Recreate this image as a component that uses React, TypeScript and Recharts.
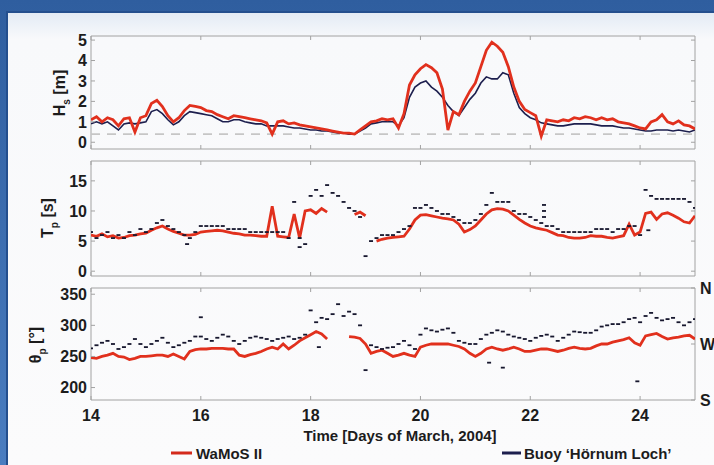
import React from "react";
import { ComposedChart, Line, XAxis, YAxis, ReferenceArea, ReferenceLine } from "recharts";

// sample times, days of March 2004
const DAYS = [
  14.0, 14.1, 14.2, 14.3, 14.4, 14.5, 14.6, 14.7, 14.8, 14.9,
  15.0, 15.1, 15.2, 15.3, 15.4, 15.5, 15.6, 15.7, 15.8, 15.9,
  16.0, 16.1, 16.2, 16.3, 16.4, 16.5, 16.6, 16.7, 16.8, 16.9,
  17.0, 17.1, 17.2, 17.3, 17.4, 17.5, 17.6, 17.7, 17.8, 17.9,
  18.0, 18.1, 18.2, 18.3, 18.4, 18.5, 18.6, 18.7, 18.8, 18.9,
  19.0, 19.1, 19.2, 19.3, 19.4, 19.5, 19.6, 19.7, 19.8, 19.9,
  20.0, 20.1, 20.2, 20.3, 20.4, 20.5, 20.6, 20.7, 20.8, 20.9,
  21.0, 21.1, 21.2, 21.3, 21.4, 21.5, 21.6, 21.7, 21.8, 21.9,
  22.0, 22.1, 22.2, 22.3, 22.4, 22.5, 22.6, 22.7, 22.8, 22.9,
  23.0, 23.1, 23.2, 23.3, 23.4, 23.5, 23.6, 23.7, 23.8, 23.9,
  24.0, 24.1, 24.2, 24.3, 24.4, 24.5, 24.6, 24.7, 24.8, 24.9,
  25.0,
];

// significant wave height [m]
const HS_WAMOS = [
  1.1, 1.25, 1.0, 1.2, 1.1, 0.8, 1.15, 1.2, 0.5, 1.2,
  1.3, 1.9, 2.05, 1.75, 1.3, 1.0, 1.2, 1.55, 1.8, 1.75,
  1.7, 1.55, 1.5, 1.35, 1.25, 1.15, 1.3, 1.25, 1.2, 1.15,
  1.1, 1.05, 0.95, 0.4, 1.0, 1.05, 0.9, 0.95, 0.85, 0.8,
  0.75, 0.7, 0.65, 0.6, 0.55, 0.5, 0.45, 0.45, 0.4, 0.6,
  0.8, 1.0, 1.05, 1.15, 1.1, 1.15, 0.7, 1.4, 2.8, 3.3,
  3.6, 3.8, 3.65, 3.4, 2.6, 0.6, 1.5, 1.35, 2.0, 2.5,
  2.9, 3.7, 4.5, 4.9, 4.7, 4.4, 3.7, 2.7, 2.0, 1.6,
  1.45, 1.3, 0.3, 1.1, 1.05, 1.0, 1.1, 1.05, 1.2, 1.15,
  1.25, 1.2, 1.1, 1.2, 1.1, 1.15, 1.0, 0.95, 0.9, 0.8,
  0.7, 0.65, 1.0, 1.1, 1.35, 1.0, 0.9, 1.05, 0.85, 0.8,
  0.65,
];
const HS_BUOY = [
  0.9, 1.0, 0.9, 1.0, 0.8, 0.6, 0.9, 0.95, 0.9, 0.95,
  1.0, 1.5, 1.6, 1.4, 1.1, 0.85, 1.0, 1.3, 1.5, 1.45,
  1.4, 1.35, 1.3, 1.15, 1.0, 1.0, 1.1, 1.1, 1.0, 0.95,
  0.9, 0.9, 0.8, 0.8, 0.8, 0.8, 0.75, 0.7, 0.7, 0.65,
  0.6, 0.6, 0.55, 0.55, 0.5, 0.45, 0.45, 0.4, 0.4, 0.55,
  0.7, 0.9, 0.95, 1.0, 1.0, 1.0, 0.8, 1.2, 2.2, 2.7,
  2.9, 3.0, 2.7, 2.5, 2.2, 1.8, 1.5, 1.3, 1.7, 2.1,
  2.4, 2.9, 3.2, 3.1, 3.1, 3.4, 3.3, 2.4, 1.7, 1.4,
  1.2, 1.1, 0.95, 0.9, 0.85, 0.8, 0.8, 0.85, 0.9, 0.9,
  0.9, 0.9, 0.85, 0.8, 0.8, 0.8, 0.75, 0.7, 0.7, 0.65,
  0.6, 0.55, 0.55, 0.6, 0.6, 0.6, 0.55, 0.6, 0.55, 0.5,
  0.6,
];

// peak period [s]
const TP_WAMOS = [
  6.0, 5.8, 6.2, 5.7, 5.9, 5.5, 5.6, 5.9, 6.0, 6.2,
  6.3, 6.8, 7.2, 7.5, 7.0, 6.6, 6.3, 6.0, 6.0, 6.1,
  6.5, 6.6, 6.7, 6.8, 6.7, 6.5, 6.3, 6.2, 6.0, 6.0,
  5.9, 5.8, 5.8, 10.8, 5.8, 5.7, 5.6, 9.5, 5.5, 10.0,
  10.2, 9.6, 10.4, 9.8, null, null, null, null, 9.4, 9.8,
  9.2, null, 5.0, 5.3, 5.5, 5.6, 5.7, 5.8, 7.0, 8.5,
  9.3, 9.4, 9.2, 9.0, 8.8, 8.7, 8.5, 7.8, 6.5, 6.9,
  7.5, 8.5, 9.5, 10.2, 10.4, 10.3, 10.0, 9.3, 8.6, 8.0,
  7.5, 7.2, 7.0, 6.8, 6.4, 6.0, 5.9, 5.6, 5.5, 5.5,
  5.6, 5.9, 5.8, 5.8, 5.6, 5.5, 5.7, 5.9, 7.8, 6.0,
  6.5, 9.6, 9.8, 8.6, 9.5, 9.7, 9.3, 8.8, 8.2, 8.0,
  9.2,
];
const TP_BUOY = [
  6.5, 5.5, 6.0, 6.5, 5.5, 6.0, 5.5, 6.5, 6.0, 7.0,
  6.5, 7.0, 8.0, 8.5, 7.5, 7.0, 6.5, 6.0, 5.5, 6.5,
  7.5, 7.5, 7.5, 7.5, 7.5, 7.0, 7.0, 7.0, 7.0, 6.5,
  6.5, 6.5, 6.5, 6.5, 6.5, 6.5, 5.5, 11.5, 5.5, 4.5,
  12.5, 13.5, 12.5, 14.3, 13.0, 12.5, 11.5, 10.5, 10.0, 9.0,
  2.5, 5.0, 5.5, 6.0, 6.0, 6.0, 6.5, 7.0, 7.5, 10.5,
  10.5, 11.0, 10.5, 10.0, 9.5, 9.5, 9.0, 8.5, 8.0, 8.0,
  8.5, 9.5, 11.0, 13.0, 11.5, 11.5, 11.5, 10.0, 9.5, 9.5,
  9.0, 8.5, 8.0, 7.5, 7.5, 7.0, 6.5, 6.5, 6.5, 6.5,
  6.5, 6.5, 7.0, 7.0, 7.0, 6.5, 7.0, 7.0, 7.5, 7.5,
  6.0, 13.5, 12.5, 12.0, 12.0, 12.0, 12.0, 12.0, 12.0, 11.5,
  10.5,
];
const TP_OUT_DAYS = [15.75, 17.8, 22.25, 22.25, 22.25, 24.15];
const TP_OUT_VALS = [4.5, 4.0, 9.0, 10.0, 11.0, 6.8];

// peak direction [deg]
const TH_WAMOS = [
  248, 247, 250, 252, 255, 250, 249, 245, 247, 250,
  250, 251, 252, 252, 250, 254, 250, 246, 258, 261,
  262, 262, 263, 263, 263, 262, 262, 252, 250, 253,
  255, 258, 262, 265, 262, 270, 262, 268, 275, 280,
  285, 290, 286, 278, null, null, null, 282, 281, 279,
  270, 255, 258, 260, 255, 250, 252, 255, 252, 250,
  265, 268, 270, 270, 270, 270, 268, 266, 262, 255,
  250, 255, 262, 265, 262, 260, 262, 265, 262, 258,
  258, 260, 262, 262, 260, 258, 260, 263, 265, 263,
  262, 263, 267, 270, 270, 273, 275, 277, 280, 272,
  268, 283, 285, 287, 282, 278, 280, 281, 283, 284,
  278,
];
const TH_BUOY = [
  263, 268, 272, 275, 270, 262, 265, 270, 278, 270,
  265, 270, 275, 280, 272, 265, 268, 272, 275, 282,
  282, 278, 275, 280, 285, 282, 275, 270, 275, 280,
  282, 280, 278, 275, 278, 280, 282, 278, 280, 285,
  324, 305, 312, 310, 318, 334, 315, 322, 318, 300,
  228, 268, 265, 262, 264, 265, 270, 275, 268, 262,
  285, 295, 292, 290, 293, 295, 288, 275, 272, 270,
  270, 278, 285, 288, 292, 290, 285, 282, 280, 278,
  275, 280, 283, 285, 282, 275, 280, 285, 290, 289,
  288, 288, 292, 298, 300, 302, 302, 305, 310, 312,
  305, 315, 320, 312, 308, 310, 312, 305, 300, 305,
  310,
];
const TH_OUT_DAYS = [16.0, 18.15, 21.25, 21.5, 23.95];
const TH_OUT_VALS = [313, 265, 240, 232, 210];

const X_TICKS = [14, 16, 18, 20, 22, 24];
const HS_TICKS = [0, 1, 2, 3, 4, 5];
const TP_TICKS = [0, 5, 10, 15];
const TH_TICKS = [200, 250, 300, 350];
const COMPASS_TICKS = [180, 270, 360];
const COMPASS_NAMES: Record<number, string> = { 180: "S", 270: "W", 360: "N" };

const FONT = "'Liberation Sans', Arial, Helvetica, sans-serif";
const INK = "#1c1c1c";
const RED = "#e1301d";
const NAVY = "#1d1f4e";
const FRAME = "#a2a2a2";
const XDOM: [number, number] = [14, 25];

const hsRows = DAYS.map((d, i) => ({ d, wamos: HS_WAMOS[i], buoy: HS_BUOY[i] }));
const tpRows = DAYS.map((d, i) => ({ d, wamos: TP_WAMOS[i], buoy: TP_BUOY[i] }));
const thRows = DAYS.map((d, i) => ({ d, wamos: TH_WAMOS[i], buoy: TH_BUOY[i] }));
const tpOut = TP_OUT_DAYS.map((d, i) => ({ d, v: TP_OUT_VALS[i] }));
const thOut = TH_OUT_DAYS.map((d, i) => ({ d, v: TH_OUT_VALS[i] }));

const leftTick = (p: any) => (
  <g>
    <line x1={p.x + 4} x2={p.x + 8} y1={p.y} y2={p.y} stroke={FRAME} />
    <text x={p.x} y={p.y} dy="0.36em" textAnchor="end" fontSize={16} fontWeight="bold" fill={INK} fontFamily={FONT}>
      {p.payload.value}
    </text>
  </g>
);

const rightTick = (label: boolean) => (p: any) => (
  <g>
    <line x1={p.x - 5} x2={p.x - 9} y1={p.y} y2={p.y} stroke={FRAME} />
    {label && (
      <text x={p.x} y={p.y} dy="0.36em" textAnchor="start" fontSize={16} fontWeight="bold" fill={INK} fontFamily={FONT}>
        {COMPASS_NAMES[p.payload.value]}
      </text>
    )}
  </g>
);

const bottomTick = (label: boolean) => (p: any) => (
  <g>
    <line x1={p.x} x2={p.x} y1={p.y} y2={p.y - 4} stroke={FRAME} />
    {label && (
      <text x={p.x} y={p.y + 21} textAnchor="middle" fontSize={16} fontWeight="bold" fill={INK} fontFamily={FONT}>
        {p.payload.value}
      </text>
    )}
  </g>
);

const topTick = (p: any) => <line x1={p.x} x2={p.x} y1={p.y} y2={p.y + 4} stroke={FRAME} />;

const dash = (color: string) => (p: any) => {
  if (p.cy == null || Number.isNaN(p.cy)) return <g key={`n${p.index}`} />;
  return <rect key={`r${p.index}`} x={p.cx - 2} y={p.cy - 0.9} width={4} height={1.8} fill={color} />;
};

function Panel(props: {
  top: number;
  height: number;
  plotTop: number;
  plotBottom: number;
  rows: any[];
  domain: [number, number];
  ticks: number[];
  lineBuoy?: boolean;
  outliers?: { d: number; v: number }[];
  showX?: boolean;
  compass?: boolean;
  children?: React.ReactNode;
}) {
  const { rows, domain } = props;
  // axes take 1px each so that Recharts renders them
  const margin = { top: props.plotTop - 1, right: 18, bottom: props.height - props.plotBottom - 1, left: 90 };
  return (
    <div style={{ position: "absolute", left: 0, top: props.top }}>
      <ComposedChart width={714} height={props.height} data={rows} margin={margin}>
        <XAxis
          dataKey="d"
          type="number"
          domain={XDOM}
          allowDataOverflow
          ticks={X_TICKS}
          height={1}
          tickSize={0}
          tickMargin={0}
          axisLine={false}
          tickLine={false}
          tick={bottomTick(!!props.showX)}
          interval={0}
        />
        <XAxis
          xAxisId="top"
          orientation="top"
          dataKey="d"
          type="number"
          domain={XDOM}
          allowDataOverflow
          ticks={X_TICKS}
          height={1}
          tickSize={0}
          tickMargin={0}
          axisLine={false}
          tickLine={false}
          tick={topTick}
          interval={0}
        />
        <YAxis
          type="number"
          domain={domain}
          allowDataOverflow
          ticks={props.ticks}
          width={1}
          tickSize={0}
          tickMargin={4}
          axisLine={false}
          tickLine={false}
          tick={leftTick}
          interval={0}
        />
        <YAxis
          yAxisId="r"
          orientation="right"
          type="number"
          domain={props.compass ? [180, 360] : domain}
          allowDataOverflow
          ticks={props.compass ? COMPASS_TICKS : props.ticks}
          width={1}
          tickSize={0}
          tickMargin={5}
          axisLine={false}
          tickLine={false}
          tick={rightTick(!!props.compass)}
          interval={0}
        />
        <ReferenceArea x1={XDOM[0]} x2={XDOM[1]} y1={domain[0]} y2={domain[1]} fill="none" stroke={FRAME} strokeWidth={1} ifOverflow="visible" />
        {props.children}
        {props.lineBuoy ? (
          <>
            <Line dataKey="buoy" stroke={NAVY} strokeWidth={1.6} dot={false} activeDot={false} isAnimationActive={false} />
            <Line dataKey="wamos" stroke={RED} strokeWidth={2.8} dot={false} activeDot={false} isAnimationActive={false} />
          </>
        ) : (
          <>
            <Line dataKey="wamos" stroke={RED} strokeWidth={2.8} dot={false} activeDot={false} isAnimationActive={false} />
            <Line dataKey="buoy" stroke="none" dot={dash("#17172e")} activeDot={false} isAnimationActive={false} />
            {props.outliers && (
              <Line data={props.outliers} dataKey="v" stroke="none" dot={dash("#17172e")} activeDot={false} isAnimationActive={false} />
            )}
          </>
        )}
      </ComposedChart>
    </div>
  );
}

const yLabel = (x: number, y: number, main: string, sub: string, unit: string) => (
  <div
    style={{
      position: "absolute",
      left: x,
      top: y,
      transform: "translate(-50%, -50%) rotate(-90deg)",
      whiteSpace: "nowrap",
      fontFamily: FONT,
      fontSize: 16,
      fontWeight: "bold",
      color: INK,
      lineHeight: 1,
    }}
  >
    {main}
    <sub style={{ fontSize: 10 }}>{sub}</sub> {unit}
  </div>
);

const textStyle: React.CSSProperties = {
  position: "absolute",
  whiteSpace: "nowrap",
  fontFamily: FONT,
  fontSize: 15,
  fontWeight: "bold",
  color: INK,
};

export default function App() {
  return (
    <div
      style={{
        position: "fixed",
        left: 0,
        top: 0,
        width: 714,
        height: 465,
        overflow: "hidden",
        background: "linear-gradient(180deg, #2f5e9f 0%, #4a7dc0 100%)",
      }}
    >
      <div
        style={{
          position: "absolute",
          left: 6,
          top: 11,
          right: 0,
          bottom: 0,
          borderLeft: "2px solid #244f8e",
          borderTop: "2px solid #244f8e",
          background: "linear-gradient(180deg, #e3ebf5 0px, #f8f9fb 26px, #fbfbfc 100%)",
        }}
      />
      <Panel top={0} height={160} plotTop={36} plotBottom={149} rows={hsRows} domain={[-0.33, 5.2]} ticks={HS_TICKS} lineBuoy>
        <ReferenceLine y={0.4} stroke="#c6c6c6" strokeWidth={1.6} strokeDasharray="9 7" />
      </Panel>
      <Panel top={150} height={135} plotTop={11} plotBottom={126} rows={tpRows} domain={[-0.8, 18.3]} ticks={TP_TICKS} outliers={tpOut} />
      <Panel top={280} height={185} plotTop={8} plotBottom={120} rows={thRows} domain={[180, 360]} ticks={TH_TICKS} outliers={thOut} showX compass />

      {yLabel(62, 93, "H", "s", "[m]")}
      {yLabel(50, 218, "T", "p", "[s]")}
      {yLabel(38, 345, "\u03b8", "p", "[\u00b0]")}

      <div style={{ ...textStyle, left: 400, top: 435, transform: "translate(-50%, -50%)" }}>
        Time [Days of March, 2004]
      </div>
      <div style={{ ...textStyle, left: 171, top: 453, display: "flex", alignItems: "center", transform: "translateY(-50%)" }}>
        <span style={{ display: "inline-block", width: 21, height: 3, background: "#d42a1c", marginRight: 4 }} />
        WaMoS II
      </div>
      <div style={{ ...textStyle, left: 502, top: 453, display: "flex", alignItems: "center", transform: "translateY(-50%)" }}>
        <span style={{ display: "inline-block", width: 19, height: 3, background: NAVY, marginRight: 3 }} />
        Buoy {"\u2018H\u00f6rnum Loch\u2019"}
      </div>
    </div>
  );
}
